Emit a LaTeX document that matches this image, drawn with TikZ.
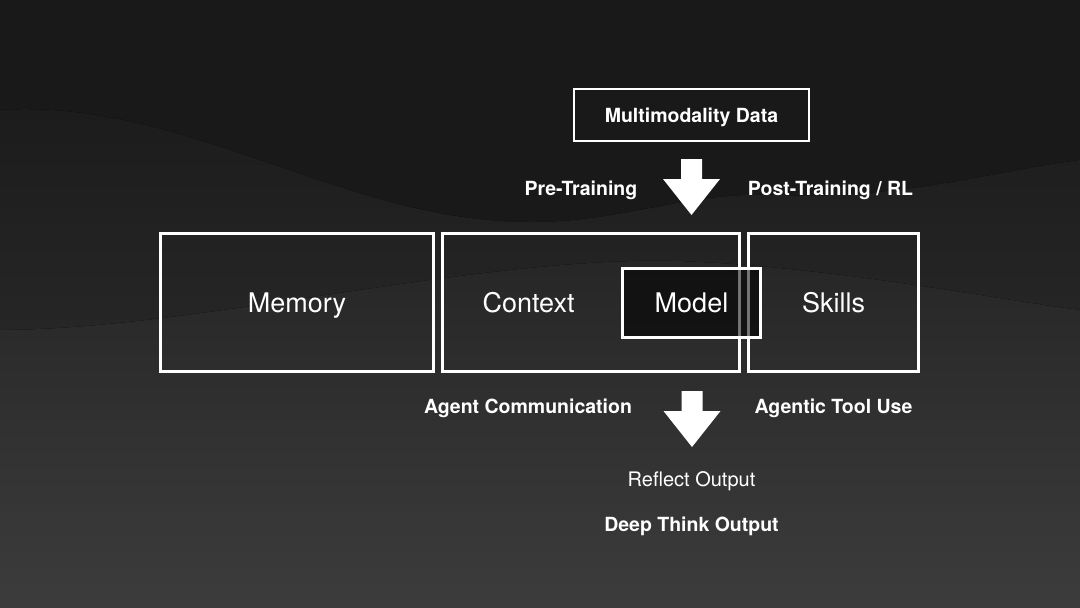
\documentclass[tikz,border=0pt]{standalone}
\usepackage{fontspec}
\setmainfont{TeX Gyre Heros}
\usetikzlibrary{positioning}

\definecolor{bgtop}{RGB}{25,25,25}
\definecolor{bgmid}{RGB}{38,38,38}
\definecolor{bgbot}{RGB}{60,60,60}

\begin{document}
\begin{tikzpicture}[x=1pt, y=-1pt,
    box/.style={draw=white, line width=2.7pt, inner sep=0pt, text=white,
        font=\fontsize{27}{30}\selectfont, text height=19.4pt, text depth=0pt},
    lbl/.style={text=white, inner sep=0pt, font=\fontsize{19.5}{22}\selectfont\bfseries,
        text height=14pt, text depth=0pt},
    plain/.style={lbl, font=\fontsize{20}{22}\selectfont},
    downarrow/.pic={\fill[white] (-10.5,0) -- (10.5,0) -- (10.5,20) -- (28.5,20)
        -- (0,56) -- (-28.5,20) -- (-10.5,20) -- cycle;}]

    % background
    \useasboundingbox (0,0) rectangle (1080,608);
    \fill[bgtop] (0,0) rectangle (1080,608);
    \fill[top color=bgtop!80!bgmid, bottom color=bgmid]
        (0,110) .. controls (160,100) and (300,190) .. (450,215)
        .. controls (600,240) and (660,190) .. (780,195)
        .. controls (900,200) and (1000,170) .. (1080,160)
        -- (1080,330) -- (0,330) -- cycle;
    \fill[top color=bgmid, bottom color=bgbot]
        (0,330) .. controls (200,330) and (500,250) .. (700,262)
        .. controls (850,270) and (1000,300) .. (1080,310)
        -- (1080,608) -- (0,608) -- cycle;

    % top part
    \node[box, line width=1.8pt, font=\fontsize{19.5}{22}\selectfont\bfseries,
        text height=14pt, minimum width=235pt, minimum height=52pt] (data) at (691.5,115) {Multimodality Data};
    \coordinate (arrin) at (691.5,159);
    \pic at (arrin) {downarrow};
    \node[lbl] (pre) at (581,188.5) {Pre-Training};
    \node[lbl] (post) at (830.5,188.5) {Post-Training / RL};

    % main row
    \node[box, minimum width=273pt, minimum height=138pt] (memory) at (297,302.5) {Memory};
    \node[box, minimum width=297pt, minimum height=138pt] (context) at (591,302.5) {};
    \node[box, minimum width=170pt, minimum height=138pt] (skills) at (833.5,302.5) {Skills};
    \node[text=white, font=\fontsize{27}{30}\selectfont, text height=19.4pt, text depth=0pt,
        inner sep=0pt] (ctxtext) at (528.5,303) {Context};
    \node[box, fill=black, fill opacity=0.55, text opacity=1,
        minimum width=138pt, minimum height=69pt] (model) at (691.5,303) {Model};

    % bottom part
    \node[lbl] (comm) at (528,406.5) {Agent Communication};
    \node[lbl] (tool) at (833.5,406.5) {Agentic Tool Use};
    \coordinate (arrout) at (692,391);
    \pic at (arrout) {downarrow};
    \node[plain] (reflect) at (691.5,479.5) {Reflect Output};
    \node[lbl, below=31pt of reflect] (deep) {Deep Think Output};
\end{tikzpicture}
\end{document}
